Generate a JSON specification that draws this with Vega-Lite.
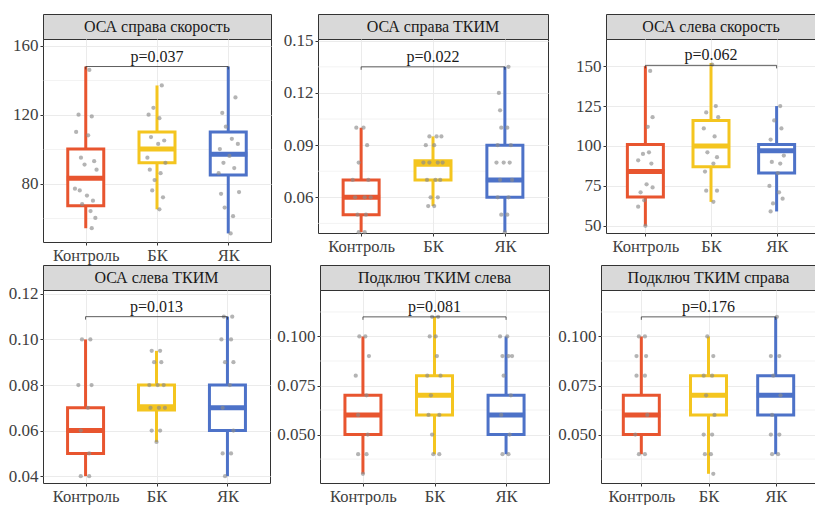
{
"$schema":"https://vega.github.io/schema/vega-lite/v6.json",
"background":"white",
"padding":{"left":0,"top":13,"right":0,"bottom":0},
"config":{"font":"Liberation Serif","axis":{"domain":false,"labelFont":"Liberation Serif","labelFontSize":17,"labelColor":"#404040","tickColor":"#333333","tickSize":3,"labelPadding":2,"gridColor":"#ebebeb","labelOverlap":false},"axisX":{"labelFontSize":16.5},"text":{"font":"Liberation Serif"}},
"datasets":{
"minor":[
{"p":2,"v":0.045},{"p":2,"v":0.075},{"p":2,"v":0.105},{"p":2,"v":0.135},
{"p":5,"v":0.0375},{"p":5,"v":0.0625},{"p":5,"v":0.0875},{"p":5,"v":0.1125},
{"p":6,"v":0.0375},{"p":6,"v":0.0625},{"p":6,"v":0.0875},{"p":6,"v":0.1125}
],
"boxes":[
{"p":1,"g":"Контроль","lo":54,"q1":67,"md":83,"q3":100,"hi":148},
{"p":1,"g":"БК","lo":65,"q1":92,"md":100,"q3":110,"hi":137},
{"p":1,"g":"ЯК","lo":51,"q1":85,"md":97,"q3":110,"hi":148},
{"p":2,"g":"Контроль","lo":0.04,"q1":0.05,"md":0.06,"q3":0.07,"hi":0.10},
{"p":2,"g":"БК","lo":0.055,"q1":0.07,"md":0.079,"q3":0.081,"hi":0.095},
{"p":2,"g":"ЯК","lo":0.04,"q1":0.06,"md":0.07,"q3":0.09,"hi":0.135},
{"p":3,"g":"Контроль","lo":50,"q1":68,"md":84,"q3":101,"hi":150},
{"p":3,"g":"БК","lo":65,"q1":87,"md":100,"q3":116,"hi":152},
{"p":3,"g":"ЯК","lo":59,"q1":83,"md":97,"q3":101,"hi":125},
{"p":4,"g":"Контроль","lo":0.04,"q1":0.05,"md":0.06,"q3":0.07,"hi":0.10},
{"p":4,"g":"БК","lo":0.055,"q1":0.069,"md":0.0705,"q3":0.08,"hi":0.095},
{"p":4,"g":"ЯК","lo":0.04,"q1":0.06,"md":0.07,"q3":0.08,"hi":0.11},
{"p":5,"g":"Контроль","lo":0.03,"q1":0.05,"md":0.06,"q3":0.07,"hi":0.10},
{"p":5,"g":"БК","lo":0.04,"q1":0.06,"md":0.07,"q3":0.08,"hi":0.11},
{"p":5,"g":"ЯК","lo":0.04,"q1":0.05,"md":0.06,"q3":0.07,"hi":0.10},
{"p":6,"g":"Контроль","lo":0.04,"q1":0.05,"md":0.06,"q3":0.07,"hi":0.10},
{"p":6,"g":"БК","lo":0.03,"q1":0.06,"md":0.07,"q3":0.08,"hi":0.10},
{"p":6,"g":"ЯК","lo":0.04,"q1":0.06,"md":0.07,"q3":0.08,"hi":0.11}
],
"br":[
{"p":1,"a":"Контроль","b":"ЯК","m":"БК","y":148,"y0":146.3,"t":"p=0.037"},
{"p":2,"a":"Контроль","b":"ЯК","m":"БК","y":0.135,"y0":0.1333,"t":"p=0.022"},
{"p":3,"a":"Контроль","b":"ЯК","m":"БК","y":150.5,"y0":148.6,"t":"p=0.062"},
{"p":4,"a":"Контроль","b":"ЯК","m":"БК","y":0.11,"y0":0.1087,"t":"p=0.013"},
{"p":5,"a":"Контроль","b":"ЯК","m":"БК","y":0.11,"y0":0.1085,"t":"p=0.081"},
{"p":6,"a":"Контроль","b":"ЯК","m":"БК","y":0.11,"y0":0.1085,"t":"p=0.176"}
],
"pts":[
{"p":1,"g":"Контроль","v":146,"j":0.3},{"p":1,"g":"Контроль","v":120,"j":-0.6},{"p":1,"g":"Контроль","v":119,"j":0.5},{"p":1,"g":"Контроль","v":110,"j":-0.8},{"p":1,"g":"Контроль","v":108,"j":0.2},{"p":1,"g":"Контроль","v":95,"j":-0.4},{"p":1,"g":"Контроль","v":93,"j":0.7},{"p":1,"g":"Контроль","v":91,"j":-0.1},{"p":1,"g":"Контроль","v":88,"j":0.9},{"p":1,"g":"Контроль","v":77,"j":-0.9},{"p":1,"g":"Контроль","v":76,"j":-0.5},{"p":1,"g":"Контроль","v":73,"j":0.1},{"p":1,"g":"Контроль","v":70,"j":0.6},{"p":1,"g":"Контроль","v":68,"j":-0.3},{"p":1,"g":"Контроль","v":64,"j":0.4},{"p":1,"g":"Контроль","v":60,"j":0.8},{"p":1,"g":"Контроль","v":54,"j":0.5},
{"p":1,"g":"БК","v":137,"j":0.4},{"p":1,"g":"БК","v":124,"j":-0.3},{"p":1,"g":"БК","v":120,"j":-0.7},{"p":1,"g":"БК","v":118,"j":0.2},{"p":1,"g":"БК","v":107,"j":-0.5},{"p":1,"g":"БК","v":105,"j":0.6},{"p":1,"g":"БК","v":103,"j":0.1},{"p":1,"g":"БК","v":95,"j":-0.8},{"p":1,"g":"БК","v":92,"j":0.7},{"p":1,"g":"БК","v":88,"j":-0.6},{"p":1,"g":"БК","v":86,"j":0.3},{"p":1,"g":"БК","v":82,"j":-0.2},{"p":1,"g":"БК","v":76,"j":-0.4},{"p":1,"g":"БК","v":72,"j":0.5},{"p":1,"g":"БК","v":65,"j":0.2},
{"p":1,"g":"ЯК","v":130,"j":0.6},{"p":1,"g":"ЯК","v":121,"j":-0.5},{"p":1,"g":"ЯК","v":113,"j":-0.2},{"p":1,"g":"ЯК","v":106,"j":0.3},{"p":1,"g":"ЯК","v":103,"j":0.8},{"p":1,"g":"ЯК","v":100,"j":-0.7},{"p":1,"g":"ЯК","v":96,"j":0.1},{"p":1,"g":"ЯК","v":92,"j":-0.4},{"p":1,"g":"ЯК","v":89,"j":0.5},{"p":1,"g":"ЯК","v":86,"j":-0.8},{"p":1,"g":"ЯК","v":75,"j":0.9},{"p":1,"g":"ЯК","v":74,"j":-0.6},{"p":1,"g":"ЯК","v":66,"j":-0.3},{"p":1,"g":"ЯК","v":61,"j":0.4},{"p":1,"g":"ЯК","v":51,"j":0.2},
{"p":2,"g":"Контроль","v":0.10,"j":-0.4},{"p":2,"g":"Контроль","v":0.10,"j":0.2},{"p":2,"g":"Контроль","v":0.09,"j":0.5},{"p":2,"g":"Контроль","v":0.08,"j":-0.2},{"p":2,"g":"Контроль","v":0.07,"j":0.6},{"p":2,"g":"Контроль","v":0.07,"j":-0.7},{"p":2,"g":"Контроль","v":0.06,"j":0.3},{"p":2,"g":"Контроль","v":0.06,"j":-0.5},{"p":2,"g":"Контроль","v":0.06,"j":0.8},{"p":2,"g":"Контроль","v":0.05,"j":-0.3},{"p":2,"g":"Контроль","v":0.05,"j":0.4},{"p":2,"g":"Контроль","v":0.04,"j":-0.2},{"p":2,"g":"Контроль","v":0.04,"j":0.3},
{"p":2,"g":"БК","v":0.095,"j":-0.3},{"p":2,"g":"БК","v":0.095,"j":0.3},{"p":2,"g":"БК","v":0.095,"j":0.7},{"p":2,"g":"БК","v":0.09,"j":-0.6},{"p":2,"g":"БК","v":0.09,"j":0.1},{"p":2,"g":"БК","v":0.08,"j":-0.8},{"p":2,"g":"БК","v":0.08,"j":-0.3},{"p":2,"g":"БК","v":0.08,"j":0.4},{"p":2,"g":"БК","v":0.08,"j":0.8},{"p":2,"g":"БК","v":0.07,"j":-0.5},{"p":2,"g":"БК","v":0.07,"j":0.2},{"p":2,"g":"БК","v":0.07,"j":0.6},{"p":2,"g":"БК","v":0.06,"j":-0.2},{"p":2,"g":"БК","v":0.06,"j":0.4},{"p":2,"g":"БК","v":0.055,"j":-0.4},{"p":2,"g":"БК","v":0.055,"j":0.1},
{"p":2,"g":"ЯК","v":0.135,"j":0.3},{"p":2,"g":"ЯК","v":0.12,"j":-0.5},{"p":2,"g":"ЯК","v":0.11,"j":-0.4},{"p":2,"g":"ЯК","v":0.10,"j":-0.3},{"p":2,"g":"ЯК","v":0.10,"j":0.2},{"p":2,"g":"ЯК","v":0.09,"j":-0.6},{"p":2,"g":"ЯК","v":0.09,"j":0.5},{"p":2,"g":"ЯК","v":0.08,"j":-0.7},{"p":2,"g":"ЯК","v":0.08,"j":-0.1},{"p":2,"g":"ЯК","v":0.08,"j":0.4},{"p":2,"g":"ЯК","v":0.07,"j":-0.4},{"p":2,"g":"ЯК","v":0.07,"j":0.6},{"p":2,"g":"ЯК","v":0.06,"j":0.3},{"p":2,"g":"ЯК","v":0.06,"j":-0.6},{"p":2,"g":"ЯК","v":0.05,"j":-0.3},{"p":2,"g":"ЯК","v":0.05,"j":0.2},{"p":2,"g":"ЯК","v":0.04,"j":0.0},
{"p":3,"g":"Контроль","v":147,"j":0.4},{"p":3,"g":"Контроль","v":118,"j":0.6},{"p":3,"g":"Контроль","v":112,"j":0.2},{"p":3,"g":"Контроль","v":96,"j":0.3},{"p":3,"g":"Контроль","v":95,"j":-0.2},{"p":3,"g":"Контроль","v":91,"j":-0.6},{"p":3,"g":"Контроль","v":89,"j":0.5},{"p":3,"g":"Контроль","v":76,"j":0.1},{"p":3,"g":"Контроль","v":74,"j":0.6},{"p":3,"g":"Контроль","v":71,"j":-0.4},{"p":3,"g":"Контроль","v":66,"j":-0.1},{"p":3,"g":"Контроль","v":62,"j":-0.6},{"p":3,"g":"Контроль","v":50,"j":0.0},
{"p":3,"g":"БК","v":151,"j":0.1},{"p":3,"g":"БК","v":125,"j":0.4},{"p":3,"g":"БК","v":121,"j":-0.4},{"p":3,"g":"БК","v":118,"j":0.6},{"p":3,"g":"БК","v":111,"j":-0.6},{"p":3,"g":"БК","v":106,"j":0.3},{"p":3,"g":"БК","v":96,"j":-0.3},{"p":3,"g":"БК","v":93,"j":0.5},{"p":3,"g":"БК","v":89,"j":0.2},{"p":3,"g":"БК","v":84,"j":-0.5},{"p":3,"g":"БК","v":72,"j":-0.4},{"p":3,"g":"БК","v":72,"j":0.5},{"p":3,"g":"БК","v":65,"j":0.2},
{"p":3,"g":"ЯК","v":125,"j":0.3},{"p":3,"g":"ЯК","v":116,"j":-0.2},{"p":3,"g":"ЯК","v":111,"j":0.4},{"p":3,"g":"ЯК","v":104,"j":-0.5},{"p":3,"g":"ЯК","v":94,"j":0.6},{"p":3,"g":"ЯК","v":90,"j":-0.4},{"p":3,"g":"ЯК","v":89,"j":0.3},{"p":3,"g":"ЯК","v":83,"j":0.1},{"p":3,"g":"ЯК","v":75,"j":-0.6},{"p":3,"g":"ЯК","v":71,"j":0.2},{"p":3,"g":"ЯК","v":67,"j":0.5},{"p":3,"g":"ЯК","v":64,"j":-0.3},{"p":3,"g":"ЯК","v":59,"j":-0.5},
{"p":4,"g":"Контроль","v":0.10,"j":-0.3},{"p":4,"g":"Контроль","v":0.10,"j":0.4},{"p":4,"g":"Контроль","v":0.08,"j":-0.6},{"p":4,"g":"Контроль","v":0.08,"j":0.5},{"p":4,"g":"Контроль","v":0.07,"j":0.2},{"p":4,"g":"Контроль","v":0.06,"j":-0.4},{"p":4,"g":"Контроль","v":0.05,"j":0.3},{"p":4,"g":"Контроль","v":0.04,"j":-0.4},{"p":4,"g":"Контроль","v":0.04,"j":0.3},
{"p":4,"g":"БК","v":0.095,"j":-0.4},{"p":4,"g":"БК","v":0.095,"j":0.3},{"p":4,"g":"БК","v":0.09,"j":-0.2},{"p":4,"g":"БК","v":0.09,"j":0.4},{"p":4,"g":"БК","v":0.08,"j":-0.6},{"p":4,"g":"БК","v":0.08,"j":0.1},{"p":4,"g":"БК","v":0.08,"j":0.6},{"p":4,"g":"БК","v":0.07,"j":-0.5},{"p":4,"g":"БК","v":0.07,"j":0.2},{"p":4,"g":"БК","v":0.07,"j":0.7},{"p":4,"g":"БК","v":0.06,"j":-0.4},{"p":4,"g":"БК","v":0.06,"j":0.3},{"p":4,"g":"БК","v":0.055,"j":0.0},
{"p":4,"g":"ЯК","v":0.11,"j":-0.3},{"p":4,"g":"ЯК","v":0.11,"j":0.4},{"p":4,"g":"ЯК","v":0.10,"j":-0.5},{"p":4,"g":"ЯК","v":0.10,"j":0.3},{"p":4,"g":"ЯК","v":0.09,"j":-0.2},{"p":4,"g":"ЯК","v":0.09,"j":0.5},{"p":4,"g":"ЯК","v":0.08,"j":0.2},{"p":4,"g":"ЯК","v":0.07,"j":-0.4},{"p":4,"g":"ЯК","v":0.06,"j":0.5},{"p":4,"g":"ЯК","v":0.05,"j":-0.4},{"p":4,"g":"ЯК","v":0.05,"j":0.3},{"p":4,"g":"ЯК","v":0.04,"j":-0.2},
{"p":5,"g":"Контроль","v":0.10,"j":-0.3},{"p":5,"g":"Контроль","v":0.10,"j":0.2},{"p":5,"g":"Контроль","v":0.09,"j":0.5},{"p":5,"g":"Контроль","v":0.08,"j":-0.6},{"p":5,"g":"Контроль","v":0.07,"j":0.3},{"p":5,"g":"Контроль","v":0.06,"j":-0.4},{"p":5,"g":"Контроль","v":0.05,"j":0.4},{"p":5,"g":"Контроль","v":0.04,"j":-0.4},{"p":5,"g":"Контроль","v":0.04,"j":0.3},{"p":5,"g":"Контроль","v":0.03,"j":0.0},
{"p":5,"g":"БК","v":0.11,"j":-0.2},{"p":5,"g":"БК","v":0.11,"j":0.3},{"p":5,"g":"БК","v":0.10,"j":-0.4},{"p":5,"g":"БК","v":0.10,"j":0.1},{"p":5,"g":"БК","v":0.09,"j":0.2},{"p":5,"g":"БК","v":0.08,"j":-0.6},{"p":5,"g":"БК","v":0.08,"j":0.5},{"p":5,"g":"БК","v":0.07,"j":-0.3},{"p":5,"g":"БК","v":0.06,"j":-0.5},{"p":5,"g":"БК","v":0.06,"j":0.4},{"p":5,"g":"БК","v":0.05,"j":-0.2},{"p":5,"g":"БК","v":0.04,"j":-0.1},{"p":5,"g":"БК","v":0.04,"j":0.4},
{"p":5,"g":"ЯК","v":0.10,"j":-0.5},{"p":5,"g":"ЯК","v":0.10,"j":0.1},{"p":5,"g":"ЯК","v":0.09,"j":-0.3},{"p":5,"g":"ЯК","v":0.09,"j":0.2},{"p":5,"g":"ЯК","v":0.09,"j":0.5},{"p":5,"g":"ЯК","v":0.08,"j":-0.2},{"p":5,"g":"ЯК","v":0.07,"j":0.4},{"p":5,"g":"ЯК","v":0.06,"j":-0.4},{"p":5,"g":"ЯК","v":0.05,"j":0.3},{"p":5,"g":"ЯК","v":0.04,"j":-0.3},{"p":5,"g":"ЯК","v":0.04,"j":0.2},
{"p":6,"g":"Контроль","v":0.10,"j":-0.2},{"p":6,"g":"Контроль","v":0.10,"j":0.3},{"p":6,"g":"Контроль","v":0.09,"j":-0.4},{"p":6,"g":"Контроль","v":0.09,"j":0.4},{"p":6,"g":"Контроль","v":0.08,"j":-0.4},{"p":6,"g":"Контроль","v":0.08,"j":0.3},{"p":6,"g":"Контроль","v":0.06,"j":0.5},{"p":6,"g":"Контроль","v":0.05,"j":-0.5},{"p":6,"g":"Контроль","v":0.04,"j":-0.2},{"p":6,"g":"Контроль","v":0.04,"j":0.3},
{"p":6,"g":"БК","v":0.10,"j":-0.1},{"p":6,"g":"БК","v":0.09,"j":0.4},{"p":6,"g":"БК","v":0.08,"j":-0.4},{"p":6,"g":"БК","v":0.08,"j":0.3},{"p":6,"g":"БК","v":0.07,"j":-0.2},{"p":6,"g":"БК","v":0.06,"j":0.5},{"p":6,"g":"БК","v":0.05,"j":-0.4},{"p":6,"g":"БК","v":0.05,"j":0.3},{"p":6,"g":"БК","v":0.04,"j":-0.3},{"p":6,"g":"БК","v":0.04,"j":0.2},{"p":6,"g":"БК","v":0.03,"j":0.4},
{"p":6,"g":"ЯК","v":0.11,"j":0.1},{"p":6,"g":"ЯК","v":0.09,"j":-0.4},{"p":6,"g":"ЯК","v":0.09,"j":0.3},{"p":6,"g":"ЯК","v":0.08,"j":-0.2},{"p":6,"g":"ЯК","v":0.07,"j":0.4},{"p":6,"g":"ЯК","v":0.06,"j":-0.3},{"p":6,"g":"ЯК","v":0.05,"j":-0.4},{"p":6,"g":"ЯК","v":0.05,"j":0.3},{"p":6,"g":"ЯК","v":0.04,"j":-0.3},{"p":6,"g":"ЯК","v":0.04,"j":0.2}
]
},
"spacing":0,
"vconcat":[
{"spacing":0,"resolve":{"scale":{"x":"independent","y":"independent"}},"hconcat":[
{"spacing":0,"bounds":"flush","vconcat":[
{"width":228,"height":25,"view":{"fill":"#d9d9d9","stroke":"#333333"},"data":{"values":[{"t":"ОСА справа скорость"}]},"mark":{"type":"text","fontSize":16,"color":"#1a1a1a"},"encoding":{"text":{"field":"t"}}},
{"width":228,"height":203,"view":{"stroke":"#333333"},"layer":[
{"data":{"name":"boxes"},"transform":[{"filter":"datum.p==1"}],"mark":{"type":"rule","strokeWidth":3},"encoding":{"x":{"field":"g","type":"nominal","title":null,"scale":{"type":"point","padding":0.6,"domain":["Контроль","БК","ЯК"]},"axis":{"labelAngle":0,"grid":true,"minExtent":20,"maxExtent":20}},"y":{"field":"lo","type":"quantitative","title":null,"scale":{"domain":[46,164],"nice":false,"zero":false},"axis":{"values":[60,80,100,120,140,160],"format":"d","labelExpr":"datum.value % 40 === 0 ? datum.label : ''","tickOpacity":{"condition":{"test":"datum.value % 40 === 0","value":1},"value":0},"gridWidth":{"condition":{"test":"datum.value % 40 === 0","value":1},"value":0.6},"minExtent":42,"maxExtent":42}},"y2":{"field":"hi"},"color":{"field":"g","type":"nominal","scale":{"domain":["Контроль","БК","ЯК"],"range":["#e8552f","#f4c51f","#4d72c8"]},"legend":null}}},
{"data":{"name":"boxes"},"transform":[{"filter":"datum.p==1"}],"mark":{"type":"bar","fill":"white","strokeWidth":3,"size":36},"encoding":{"x":{"field":"g","type":"nominal"},"y":{"field":"q1","type":"quantitative"},"y2":{"field":"q3"},"stroke":{"field":"g","type":"nominal","scale":{"domain":["Контроль","БК","ЯК"],"range":["#e8552f","#f4c51f","#4d72c8"]},"legend":null}}},
{"data":{"name":"boxes"},"transform":[{"filter":"datum.p==1"}],"mark":{"type":"tick","thickness":5,"size":38,"opacity":1},"encoding":{"x":{"field":"g","type":"nominal"},"y":{"field":"md","type":"quantitative"},"color":{"field":"g","type":"nominal"}}},
{"data":{"name":"pts"},"transform":[{"filter":"datum.p==1"}],"mark":{"type":"circle","size":18,"color":"#8c8c8c","opacity":0.65},"encoding":{"x":{"field":"g","type":"nominal"},"xOffset":{"field":"j","type":"quantitative","scale":{"domain":[-1,1],"range":[-12,12]}},"y":{"field":"v","type":"quantitative"}}},
{"data":{"name":"br"},"transform":[{"filter":"datum.p==1"}],"mark":{"type":"rule","color":"#333333","strokeWidth":0.8},"encoding":{"x":{"field":"a","type":"nominal"},"x2":{"field":"b"},"y":{"field":"y","type":"quantitative"}}},
{"data":{"name":"br"},"transform":[{"filter":"datum.p==1"}],"mark":{"type":"rule","color":"#333333","strokeWidth":0.8},"encoding":{"x":{"field":"a","type":"nominal"},"y":{"field":"y","type":"quantitative"},"y2":{"field":"y0"}}},
{"data":{"name":"br"},"transform":[{"filter":"datum.p==1"}],"mark":{"type":"rule","color":"#333333","strokeWidth":0.8},"encoding":{"x":{"field":"b","type":"nominal"},"y":{"field":"y","type":"quantitative"},"y2":{"field":"y0"}}},
{"data":{"name":"br"},"transform":[{"filter":"datum.p==1"}],"mark":{"type":"text","fontSize":16,"baseline":"bottom","dy":-2,"color":"#1a1a1a"},"encoding":{"x":{"field":"m","type":"nominal"},"y":{"field":"y","type":"quantitative"},"text":{"field":"t"}}}
]}]},
{"spacing":0,"bounds":"flush","vconcat":[
{"width":230,"height":25,"view":{"fill":"#d9d9d9","stroke":"#333333"},"data":{"values":[{"t":"ОСА справа ТКИМ"}]},"mark":{"type":"text","fontSize":16,"color":"#1a1a1a"},"encoding":{"text":{"field":"t"}}},
{"width":230,"height":194,"view":{"stroke":"#333333"},"layer":[
{"data":{"name":"minor"},"transform":[{"filter":"datum.p==2"}],"mark":{"type":"rule","color":"#ebebeb","strokeWidth":0.6},"encoding":{"y":{"field":"v","type":"quantitative"}}},
{"data":{"name":"boxes"},"transform":[{"filter":"datum.p==2"}],"mark":{"type":"rule","strokeWidth":3},"encoding":{"x":{"field":"g","type":"nominal","title":null,"scale":{"type":"point","padding":0.6,"domain":["Контроль","БК","ЯК"]},"axis":{"labelAngle":0,"grid":true,"minExtent":20,"maxExtent":20}},"y":{"field":"lo","type":"quantitative","title":null,"scale":{"domain":[0.0395,0.151],"nice":false,"zero":false},"axis":{"values":[0.06,0.09,0.12,0.15],"format":".2f","minExtent":45,"maxExtent":45}},"y2":{"field":"hi"},"color":{"field":"g","type":"nominal","scale":{"domain":["Контроль","БК","ЯК"],"range":["#e8552f","#f4c51f","#4d72c8"]},"legend":null}}},
{"data":{"name":"boxes"},"transform":[{"filter":"datum.p==2"}],"mark":{"type":"bar","fill":"white","strokeWidth":3,"size":36},"encoding":{"x":{"field":"g","type":"nominal"},"y":{"field":"q1","type":"quantitative"},"y2":{"field":"q3"},"stroke":{"field":"g","type":"nominal","scale":{"domain":["Контроль","БК","ЯК"],"range":["#e8552f","#f4c51f","#4d72c8"]},"legend":null}}},
{"data":{"name":"boxes"},"transform":[{"filter":"datum.p==2"}],"mark":{"type":"tick","thickness":5,"size":38,"opacity":1},"encoding":{"x":{"field":"g","type":"nominal"},"y":{"field":"md","type":"quantitative"},"color":{"field":"g","type":"nominal"}}},
{"data":{"name":"pts"},"transform":[{"filter":"datum.p==2"}],"mark":{"type":"circle","size":18,"color":"#8c8c8c","opacity":0.65},"encoding":{"x":{"field":"g","type":"nominal"},"xOffset":{"field":"j","type":"quantitative","scale":{"domain":[-1,1],"range":[-12,12]}},"y":{"field":"v","type":"quantitative"}}},
{"data":{"name":"br"},"transform":[{"filter":"datum.p==2"}],"mark":{"type":"rule","color":"#333333","strokeWidth":0.8},"encoding":{"x":{"field":"a","type":"nominal"},"x2":{"field":"b"},"y":{"field":"y","type":"quantitative"}}},
{"data":{"name":"br"},"transform":[{"filter":"datum.p==2"}],"mark":{"type":"rule","color":"#333333","strokeWidth":0.8},"encoding":{"x":{"field":"a","type":"nominal"},"y":{"field":"y","type":"quantitative"},"y2":{"field":"y0"}}},
{"data":{"name":"br"},"transform":[{"filter":"datum.p==2"}],"mark":{"type":"rule","color":"#333333","strokeWidth":0.8},"encoding":{"x":{"field":"b","type":"nominal"},"y":{"field":"y","type":"quantitative"},"y2":{"field":"y0"}}},
{"data":{"name":"br"},"transform":[{"filter":"datum.p==2"}],"mark":{"type":"text","fontSize":16,"baseline":"bottom","dy":-2,"color":"#1a1a1a"},"encoding":{"x":{"field":"m","type":"nominal"},"y":{"field":"y","type":"quantitative"},"text":{"field":"t"}}}
]}]},
{"spacing":0,"bounds":"flush","vconcat":[
{"width":210,"height":25,"view":{"fill":"#d9d9d9","stroke":"#333333"},"data":{"values":[{"t":"ОСА слева скорость"}]},"mark":{"type":"text","fontSize":16,"color":"#1a1a1a"},"encoding":{"text":{"field":"t"}}},
{"width":210,"height":194,"view":{"stroke":"#333333"},"layer":[
{"data":{"name":"boxes"},"transform":[{"filter":"datum.p==3"}],"mark":{"type":"rule","strokeWidth":3},"encoding":{"x":{"field":"g","type":"nominal","title":null,"scale":{"type":"point","padding":0.6,"domain":["Контроль","БК","ЯК"]},"axis":{"labelAngle":0,"grid":true,"minExtent":20,"maxExtent":20}},"y":{"field":"lo","type":"quantitative","title":null,"scale":{"domain":[45.5,167],"nice":false,"zero":false},"axis":{"values":[50,62.5,75,87.5,100,112.5,125,137.5,150],"format":"d","labelExpr":"datum.value % 25 === 0 ? datum.label : ''","tickOpacity":{"condition":{"test":"datum.value % 25 === 0","value":1},"value":0},"gridWidth":{"condition":{"test":"datum.value % 25 === 0","value":1},"value":0.6},"minExtent":56,"maxExtent":56}},"y2":{"field":"hi"},"color":{"field":"g","type":"nominal","scale":{"domain":["Контроль","БК","ЯК"],"range":["#e8552f","#f4c51f","#4d72c8"]},"legend":null}}},
{"data":{"name":"boxes"},"transform":[{"filter":"datum.p==3"}],"mark":{"type":"bar","fill":"white","strokeWidth":3,"size":36},"encoding":{"x":{"field":"g","type":"nominal"},"y":{"field":"q1","type":"quantitative"},"y2":{"field":"q3"},"stroke":{"field":"g","type":"nominal","scale":{"domain":["Контроль","БК","ЯК"],"range":["#e8552f","#f4c51f","#4d72c8"]},"legend":null}}},
{"data":{"name":"boxes"},"transform":[{"filter":"datum.p==3"}],"mark":{"type":"tick","thickness":5,"size":38,"opacity":1},"encoding":{"x":{"field":"g","type":"nominal"},"y":{"field":"md","type":"quantitative"},"color":{"field":"g","type":"nominal"}}},
{"data":{"name":"pts"},"transform":[{"filter":"datum.p==3"}],"mark":{"type":"circle","size":18,"color":"#8c8c8c","opacity":0.65},"encoding":{"x":{"field":"g","type":"nominal"},"xOffset":{"field":"j","type":"quantitative","scale":{"domain":[-1,1],"range":[-12,12]}},"y":{"field":"v","type":"quantitative"}}},
{"data":{"name":"br"},"transform":[{"filter":"datum.p==3"}],"mark":{"type":"rule","color":"#333333","strokeWidth":0.8},"encoding":{"x":{"field":"a","type":"nominal"},"x2":{"field":"b"},"y":{"field":"y","type":"quantitative"}}},
{"data":{"name":"br"},"transform":[{"filter":"datum.p==3"}],"mark":{"type":"rule","color":"#333333","strokeWidth":0.8},"encoding":{"x":{"field":"a","type":"nominal"},"y":{"field":"y","type":"quantitative"},"y2":{"field":"y0"}}},
{"data":{"name":"br"},"transform":[{"filter":"datum.p==3"}],"mark":{"type":"rule","color":"#333333","strokeWidth":0.8},"encoding":{"x":{"field":"b","type":"nominal"},"y":{"field":"y","type":"quantitative"},"y2":{"field":"y0"}}},
{"data":{"name":"br"},"transform":[{"filter":"datum.p==3"}],"mark":{"type":"text","fontSize":16,"baseline":"bottom","dy":-2,"color":"#1a1a1a"},"encoding":{"x":{"field":"m","type":"nominal"},"y":{"field":"y","type":"quantitative"},"text":{"field":"t"}}}
]}]}
]},
{"spacing":0,"resolve":{"scale":{"x":"independent","y":"independent"}},"hconcat":[
{"spacing":0,"bounds":"flush","vconcat":[
{"width":227,"height":25,"view":{"fill":"#d9d9d9","stroke":"#333333"},"data":{"values":[{"t":"ОСА слева ТКИМ"}]},"mark":{"type":"text","fontSize":16,"color":"#1a1a1a"},"encoding":{"text":{"field":"t"}}},
{"width":227,"height":193,"view":{"stroke":"#333333"},"layer":[
{"data":{"name":"boxes"},"transform":[{"filter":"datum.p==4"}],"mark":{"type":"rule","strokeWidth":3},"encoding":{"x":{"field":"g","type":"nominal","title":null,"scale":{"type":"point","padding":0.6,"domain":["Контроль","БК","ЯК"]},"axis":{"labelAngle":0,"grid":true,"minExtent":20,"maxExtent":20}},"y":{"field":"lo","type":"quantitative","title":null,"scale":{"domain":[0.037,0.1217],"nice":false,"zero":false},"axis":{"values":[0.04,0.05,0.06,0.07,0.08,0.09,0.10,0.11,0.12],"format":".2f","labelExpr":"round(datum.value*100) % 2 === 0 ? datum.label : ''","tickOpacity":{"condition":{"test":"round(datum.value*100) % 2 === 0","value":1},"value":0},"gridWidth":{"condition":{"test":"round(datum.value*100) % 2 === 0","value":1},"value":0.6},"minExtent":42,"maxExtent":42}},"y2":{"field":"hi"},"color":{"field":"g","type":"nominal","scale":{"domain":["Контроль","БК","ЯК"],"range":["#e8552f","#f4c51f","#4d72c8"]},"legend":null}}},
{"data":{"name":"boxes"},"transform":[{"filter":"datum.p==4"}],"mark":{"type":"bar","fill":"white","strokeWidth":3,"size":36},"encoding":{"x":{"field":"g","type":"nominal"},"y":{"field":"q1","type":"quantitative"},"y2":{"field":"q3"},"stroke":{"field":"g","type":"nominal","scale":{"domain":["Контроль","БК","ЯК"],"range":["#e8552f","#f4c51f","#4d72c8"]},"legend":null}}},
{"data":{"name":"boxes"},"transform":[{"filter":"datum.p==4"}],"mark":{"type":"tick","thickness":5,"size":38,"opacity":1},"encoding":{"x":{"field":"g","type":"nominal"},"y":{"field":"md","type":"quantitative"},"color":{"field":"g","type":"nominal"}}},
{"data":{"name":"pts"},"transform":[{"filter":"datum.p==4"}],"mark":{"type":"circle","size":18,"color":"#8c8c8c","opacity":0.65},"encoding":{"x":{"field":"g","type":"nominal"},"xOffset":{"field":"j","type":"quantitative","scale":{"domain":[-1,1],"range":[-12,12]}},"y":{"field":"v","type":"quantitative"}}},
{"data":{"name":"br"},"transform":[{"filter":"datum.p==4"}],"mark":{"type":"rule","color":"#333333","strokeWidth":0.8},"encoding":{"x":{"field":"a","type":"nominal"},"x2":{"field":"b"},"y":{"field":"y","type":"quantitative"}}},
{"data":{"name":"br"},"transform":[{"filter":"datum.p==4"}],"mark":{"type":"rule","color":"#333333","strokeWidth":0.8},"encoding":{"x":{"field":"a","type":"nominal"},"y":{"field":"y","type":"quantitative"},"y2":{"field":"y0"}}},
{"data":{"name":"br"},"transform":[{"filter":"datum.p==4"}],"mark":{"type":"rule","color":"#333333","strokeWidth":0.8},"encoding":{"x":{"field":"b","type":"nominal"},"y":{"field":"y","type":"quantitative"},"y2":{"field":"y0"}}},
{"data":{"name":"br"},"transform":[{"filter":"datum.p==4"}],"mark":{"type":"text","fontSize":16,"baseline":"bottom","dy":-2,"color":"#1a1a1a"},"encoding":{"x":{"field":"m","type":"nominal"},"y":{"field":"y","type":"quantitative"},"text":{"field":"t"}}}
]}]},
{"spacing":0,"bounds":"flush","vconcat":[
{"width":229,"height":25,"view":{"fill":"#d9d9d9","stroke":"#333333"},"data":{"values":[{"t":"Подключ ТКИМ слева"}]},"mark":{"type":"text","fontSize":16,"color":"#1a1a1a"},"encoding":{"text":{"field":"t"}}},
{"width":229,"height":193,"view":{"stroke":"#333333"},"layer":[
{"data":{"name":"minor"},"transform":[{"filter":"datum.p==5"}],"mark":{"type":"rule","color":"#ebebeb","strokeWidth":0.6},"encoding":{"y":{"field":"v","type":"quantitative"}}},
{"data":{"name":"boxes"},"transform":[{"filter":"datum.p==5"}],"mark":{"type":"rule","strokeWidth":3},"encoding":{"x":{"field":"g","type":"nominal","title":null,"scale":{"type":"point","padding":0.6,"domain":["Контроль","БК","ЯК"]},"axis":{"labelAngle":0,"grid":true,"minExtent":20,"maxExtent":20}},"y":{"field":"lo","type":"quantitative","title":null,"scale":{"domain":[0.0253,0.1237],"nice":false,"zero":false},"axis":{"values":[0.05,0.075,0.1],"format":".3f","minExtent":48,"maxExtent":48}},"y2":{"field":"hi"},"color":{"field":"g","type":"nominal","scale":{"domain":["Контроль","БК","ЯК"],"range":["#e8552f","#f4c51f","#4d72c8"]},"legend":null}}},
{"data":{"name":"boxes"},"transform":[{"filter":"datum.p==5"}],"mark":{"type":"bar","fill":"white","strokeWidth":3,"size":36},"encoding":{"x":{"field":"g","type":"nominal"},"y":{"field":"q1","type":"quantitative"},"y2":{"field":"q3"},"stroke":{"field":"g","type":"nominal","scale":{"domain":["Контроль","БК","ЯК"],"range":["#e8552f","#f4c51f","#4d72c8"]},"legend":null}}},
{"data":{"name":"boxes"},"transform":[{"filter":"datum.p==5"}],"mark":{"type":"tick","thickness":5,"size":38,"opacity":1},"encoding":{"x":{"field":"g","type":"nominal"},"y":{"field":"md","type":"quantitative"},"color":{"field":"g","type":"nominal"}}},
{"data":{"name":"pts"},"transform":[{"filter":"datum.p==5"}],"mark":{"type":"circle","size":18,"color":"#8c8c8c","opacity":0.65},"encoding":{"x":{"field":"g","type":"nominal"},"xOffset":{"field":"j","type":"quantitative","scale":{"domain":[-1,1],"range":[-12,12]}},"y":{"field":"v","type":"quantitative"}}},
{"data":{"name":"br"},"transform":[{"filter":"datum.p==5"}],"mark":{"type":"rule","color":"#333333","strokeWidth":0.8},"encoding":{"x":{"field":"a","type":"nominal"},"x2":{"field":"b"},"y":{"field":"y","type":"quantitative"}}},
{"data":{"name":"br"},"transform":[{"filter":"datum.p==5"}],"mark":{"type":"rule","color":"#333333","strokeWidth":0.8},"encoding":{"x":{"field":"a","type":"nominal"},"y":{"field":"y","type":"quantitative"},"y2":{"field":"y0"}}},
{"data":{"name":"br"},"transform":[{"filter":"datum.p==5"}],"mark":{"type":"rule","color":"#333333","strokeWidth":0.8},"encoding":{"x":{"field":"b","type":"nominal"},"y":{"field":"y","type":"quantitative"},"y2":{"field":"y0"}}},
{"data":{"name":"br"},"transform":[{"filter":"datum.p==5"}],"mark":{"type":"text","fontSize":16,"baseline":"bottom","dy":-2,"color":"#1a1a1a"},"encoding":{"x":{"field":"m","type":"nominal"},"y":{"field":"y","type":"quantitative"},"text":{"field":"t"}}}
]}]},
{"spacing":0,"bounds":"flush","vconcat":[
{"width":215,"height":25,"view":{"fill":"#d9d9d9","stroke":"#333333"},"data":{"values":[{"t":"Подключ ТКИМ справа"}]},"mark":{"type":"text","fontSize":16,"color":"#1a1a1a"},"encoding":{"text":{"field":"t"}}},
{"width":215,"height":193,"view":{"stroke":"#333333"},"layer":[
{"data":{"name":"minor"},"transform":[{"filter":"datum.p==6"}],"mark":{"type":"rule","color":"#ebebeb","strokeWidth":0.6},"encoding":{"y":{"field":"v","type":"quantitative"}}},
{"data":{"name":"boxes"},"transform":[{"filter":"datum.p==6"}],"mark":{"type":"rule","strokeWidth":3},"encoding":{"x":{"field":"g","type":"nominal","title":null,"scale":{"type":"point","padding":0.6,"domain":["Контроль","БК","ЯК"]},"axis":{"labelAngle":0,"grid":true,"minExtent":20,"maxExtent":20}},"y":{"field":"lo","type":"quantitative","title":null,"scale":{"domain":[0.0253,0.1237],"nice":false,"zero":false},"axis":{"values":[0.05,0.075,0.1],"format":".3f","minExtent":50,"maxExtent":50}},"y2":{"field":"hi"},"color":{"field":"g","type":"nominal","scale":{"domain":["Контроль","БК","ЯК"],"range":["#e8552f","#f4c51f","#4d72c8"]},"legend":null}}},
{"data":{"name":"boxes"},"transform":[{"filter":"datum.p==6"}],"mark":{"type":"bar","fill":"white","strokeWidth":3,"size":36},"encoding":{"x":{"field":"g","type":"nominal"},"y":{"field":"q1","type":"quantitative"},"y2":{"field":"q3"},"stroke":{"field":"g","type":"nominal","scale":{"domain":["Контроль","БК","ЯК"],"range":["#e8552f","#f4c51f","#4d72c8"]},"legend":null}}},
{"data":{"name":"boxes"},"transform":[{"filter":"datum.p==6"}],"mark":{"type":"tick","thickness":5,"size":38,"opacity":1},"encoding":{"x":{"field":"g","type":"nominal"},"y":{"field":"md","type":"quantitative"},"color":{"field":"g","type":"nominal"}}},
{"data":{"name":"pts"},"transform":[{"filter":"datum.p==6"}],"mark":{"type":"circle","size":18,"color":"#8c8c8c","opacity":0.65},"encoding":{"x":{"field":"g","type":"nominal"},"xOffset":{"field":"j","type":"quantitative","scale":{"domain":[-1,1],"range":[-12,12]}},"y":{"field":"v","type":"quantitative"}}},
{"data":{"name":"br"},"transform":[{"filter":"datum.p==6"}],"mark":{"type":"rule","color":"#333333","strokeWidth":0.8},"encoding":{"x":{"field":"a","type":"nominal"},"x2":{"field":"b"},"y":{"field":"y","type":"quantitative"}}},
{"data":{"name":"br"},"transform":[{"filter":"datum.p==6"}],"mark":{"type":"rule","color":"#333333","strokeWidth":0.8},"encoding":{"x":{"field":"a","type":"nominal"},"y":{"field":"y","type":"quantitative"},"y2":{"field":"y0"}}},
{"data":{"name":"br"},"transform":[{"filter":"datum.p==6"}],"mark":{"type":"rule","color":"#333333","strokeWidth":0.8},"encoding":{"x":{"field":"b","type":"nominal"},"y":{"field":"y","type":"quantitative"},"y2":{"field":"y0"}}},
{"data":{"name":"br"},"transform":[{"filter":"datum.p==6"}],"mark":{"type":"text","fontSize":16,"baseline":"bottom","dy":-2,"color":"#1a1a1a"},"encoding":{"x":{"field":"m","type":"nominal"},"y":{"field":"y","type":"quantitative"},"text":{"field":"t"}}}
]}]}
]}
]
}
